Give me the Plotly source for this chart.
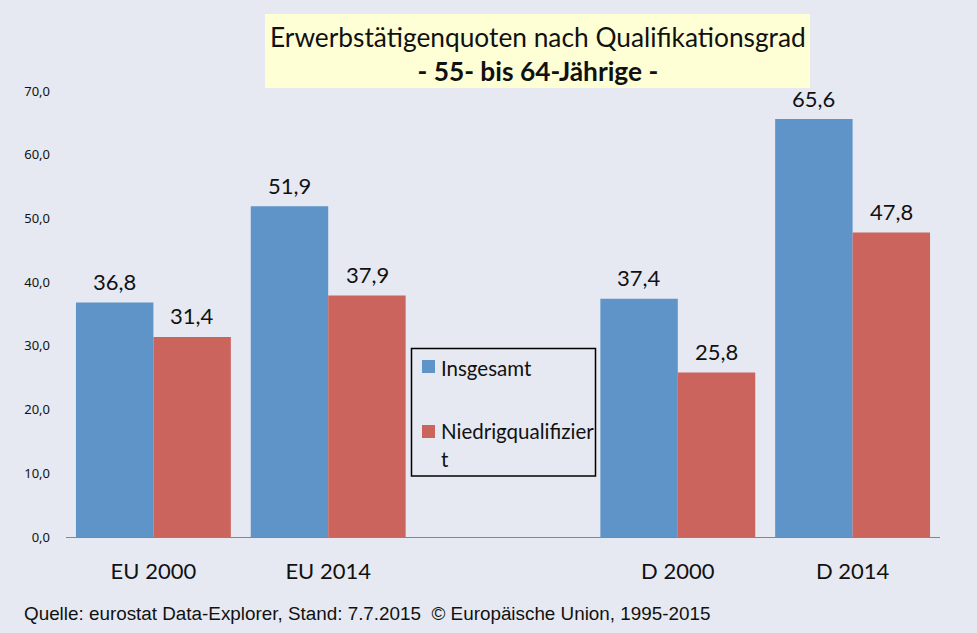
import plotly.graph_objects as go

categories = ["EU 2000", "EU 2014", " ", "D 2000", "D 2014"]
insgesamt = [36.8, 51.9, None, 37.4, 65.6]
niedrig = [31.4, 37.9, None, 25.8, 47.8]
y_ticks = [0, 10, 20, 30, 40, 50, 60, 70]

W, H = 977, 633
BG = "#e6e9f1"
TXT = "#111111"
BLUE = "#5f94c9"
RED = "#cb645c"


# pixel position in the picture -> paper coordinates (plot area x 66-940, y 91-537)
def px(x):
    return (x - 66) / 874


def py(y):
    return (537 - y) / 446


fig = go.Figure()
fig.add_bar(x=categories, y=insgesamt, name="Insgesamt", marker_color=BLUE)
fig.add_bar(x=categories, y=niedrig, name="Niedrigqualifiziert", marker_color=RED)
fig.update_traces(marker_line_width=0, cliponaxis=False)

fig.update_layout(
    width=W, height=H, autosize=False,
    margin=dict(l=66, r=W - 940, t=91, b=H - 537),
    paper_bgcolor=BG, plot_bgcolor=BG,
    barmode="group", bargap=0.114, bargroupgap=0,
    separators=",.",
    font=dict(family="Lato", color=TXT),
    showlegend=False,
)
fig.update_xaxes(
    type="category", categoryorder="array", categoryarray=categories,
    showgrid=False, showline=True, linecolor="#868686", linewidth=1, ticks="",
    tickfont=dict(family="Lato", size=22, color=TXT), ticklabelstandoff=15,
)
fig.update_yaxes(
    range=[0, 70], tickvals=y_ticks, tickformat=".1f",
    showgrid=False, showline=False, zeroline=False, ticks="",
    tickfont=dict(family="Noto Sans", size=13, color=TXT), ticklabelstandoff=15,
)

# value labels sit higher above the bars than textposition="outside" allows
for cat, a, b in zip(categories, insgesamt, niedrig):
    for val, shift in ((a, -39), (b, 39)):
        if val is None:
            continue
        fig.add_annotation(
            x=cat, y=val, xshift=shift, yshift=21, showarrow=False,
            xanchor="center", yanchor="middle",
            text=f"{val:.1f}".replace(".", ","),
            font=dict(family="Lato", size=22, color=TXT),
        )

# title box
fig.add_shape(
    type="rect", xref="paper", yref="paper",
    x0=px(265), x1=px(810), y0=py(88), y1=py(14),
    fillcolor="#ffffd5", line_width=0, layer="below",
)
fig.add_annotation(
    xref="paper", yref="paper", x=px(537.5), y=py(54),
    xanchor="center", yanchor="middle",
    text="Erwerbstätigenquoten nach Qualifikationsgrad<br><b>- 55- bis 64-Jährige -</b>",
    showarrow=False, align="center", font=dict(family="Lato", size=26.3, color=TXT),
)

# legend box, drawn by hand: swatch and text spacing is tighter than the plotly legend
fig.add_shape(
    type="rect", xref="paper", yref="paper",
    x0=px(411.5), x1=px(595.5), y0=py(476), y1=py(348.5),
    fillcolor=BG, line=dict(color="#000000", width=1.5),
)
for color, top in ((BLUE, 360), (RED, 425)):
    fig.add_shape(
        type="rect", xref="paper", yref="paper",
        x0=px(422), x1=px(435), y0=py(top + 13), y1=py(top),
        fillcolor=color, line_width=0,
    )
for label, y in (("Insgesamt", 368), ("Niedrigqualifizier", 431), ("t", 459)):
    fig.add_annotation(
        xref="paper", yref="paper", x=px(439), y=py(y),
        xanchor="left", yanchor="middle", showarrow=False, text=label,
        font=dict(family="Lato", size=20.5, color=TXT),
    )

fig.add_annotation(
    xref="paper", yref="paper", x=px(22), y=py(613),
    xanchor="left", yanchor="middle", showarrow=False,
    text="Quelle: eurostat Data-Explorer, Stand: 7.7.2015  © Europäische Union, 1995-2015",
    font=dict(family="Liberation Sans", size=18.85, color=TXT),
)

# drop the default page margin so the figure fills the window
fig.write_html(
    "out.html",
    config={"displayModeBar": False},
    post_script="document.body.style.margin='0';document.body.style.overflow='hidden';",
)
